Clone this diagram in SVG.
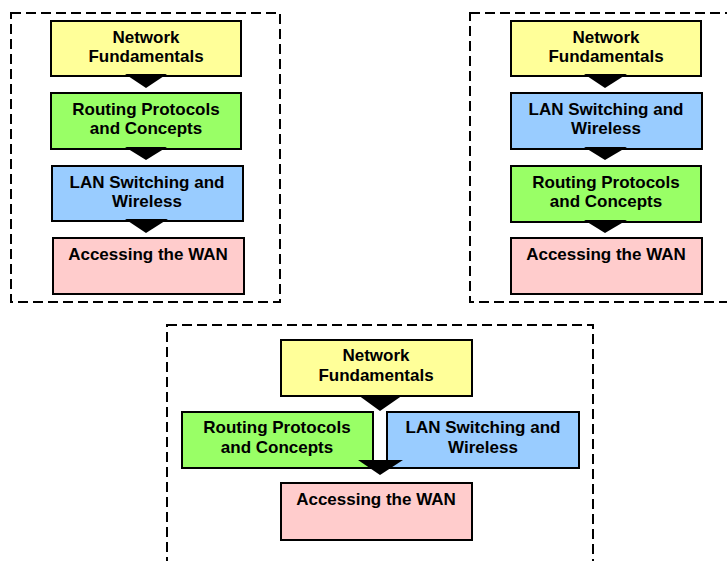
<svg xmlns="http://www.w3.org/2000/svg" width="727" height="561" viewBox="0 0 727 561">
<style>
.frame{fill:none;stroke:#000;stroke-width:2;stroke-dasharray:10 5}
.box{stroke:#000;stroke-width:2}
.nf{fill:#FFFF99}.rp{fill:#99FF66}.lan{fill:#99CCFF}.wan{fill:#FFCCCC}
text{font-family:"Liberation Sans",Arial,sans-serif;font-weight:bold;font-size:17px;fill:#000;text-anchor:middle}
.arr{fill:#000}
</style>
<rect width="727" height="561" fill="#fff"/>
<g id="frames">
<rect class="frame" x="11" y="13" width="269" height="289"/>
<rect class="frame" x="470" y="13" width="270" height="289"/>
<rect class="frame" x="167" y="325" width="426" height="250"/>
</g>
<g id="p1-nf"><rect class="box nf" x="51" y="21" width="190" height="55"/><text x="146" y="43">Network</text><text x="146" y="62">Fundamentals</text></g>
<g id="p1-rp"><rect class="box rp" x="51" y="93" width="190" height="56"/><text x="146" y="115">Routing Protocols</text><text x="146" y="134">and Concepts</text></g>
<g id="p1-lan"><rect class="box lan" x="52" y="166" width="191" height="55"/><text x="147" y="188">LAN Switching and</text><text x="147" y="207">Wireless</text></g>
<g id="p1-wan"><rect class="box wan" x="53" y="238" width="191" height="56"/><text x="148" y="260">Accessing the WAN</text></g>
<g id="p2-nf"><rect class="box nf" x="511" y="21" width="190" height="55"/><text x="606" y="43">Network</text><text x="606" y="62">Fundamentals</text></g>
<g id="p2-lan"><rect class="box lan" x="511" y="93" width="191" height="56"/><text x="606" y="115">LAN Switching and</text><text x="606" y="134">Wireless</text></g>
<g id="p2-rp"><rect class="box rp" x="511" y="166" width="190" height="56"/><text x="606" y="188">Routing Protocols</text><text x="606" y="207">and Concepts</text></g>
<g id="p2-wan"><rect class="box wan" x="511" y="238" width="191" height="56"/><text x="606" y="260">Accessing the WAN</text></g>
<g id="p3-nf"><rect class="box nf" x="281" y="340" width="191" height="56"/><text x="376" y="361">Network</text><text x="376" y="381">Fundamentals</text></g>
<g id="p3-rp"><rect class="box rp" x="182" y="412" width="191" height="56"/><text x="277" y="433">Routing Protocols</text><text x="277" y="453">and Concepts</text></g>
<g id="p3-lan"><rect class="box lan" x="387" y="412" width="192" height="56"/><text x="483" y="433">LAN Switching and</text><text x="483" y="453">Wireless</text></g>
<g id="p3-wan"><rect class="box wan" x="281" y="483" width="191" height="57"/><text x="376" y="505">Accessing the WAN</text></g>
<g id="connectors" class="arr">
<polygon points="125,74 167,74 146,88"/>
<polygon points="125,147 167,147 146,160"/>
<polygon points="125,219 168,219 146,233"/>
<polygon points="584,74 627,74 605,88"/>
<polygon points="584,147 627,147 605,160"/>
<polygon points="584,220 627,220 605,233"/>
<polygon points="358,395 403,395 380,411"/>
<polygon points="358,460 403,460 380,475"/>
</g>
</svg>
